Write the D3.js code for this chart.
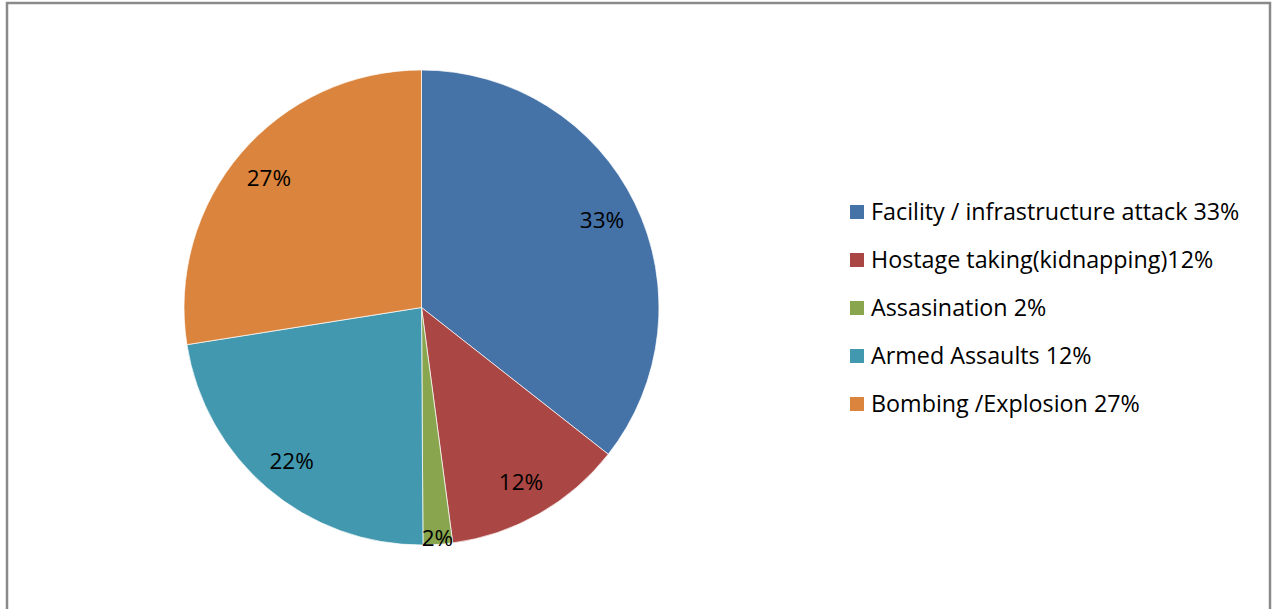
<!DOCTYPE html>
<html>
<head>
<meta charset="utf-8">
<script src="https://cdn.jsdelivr.net/npm/d3@7"></script>
<style>
  html, body { margin: 0; padding: 0; background: #fff; }
  svg { display: block; }
  text { font-family: "Open Sans", Lato, sans-serif; fill: #000; }
</style>
</head>
<body>
<svg id="chart" width="1278" height="609"></svg>
<script>
// Data (slice sizes; label texts as printed)
const categories = ["Facility / infrastructure attack", "Hostage taking(kidnapping)", "Assasination", "Armed Assaults", "Bombing /Explosion"];
const values = [35.6, 12.3, 2.0, 22.6, 27.5];
const sliceLabels = ["33%", "12%", "2%", "22%", "27%"];
const legendSuffix = [" 33%", "12%", " 2%", " 12%", " 27%"];
const colors = ["#4572A7", "#AA4643", "#89A54E", "#4198AF", "#DB843D"];

const svg = d3.select("#chart");

// frame
svg.append("rect").attr("x", 7).attr("y", 3).attr("width", 1263).attr("height", 620)
  .attr("fill", "#fff").attr("stroke", "#8a8a8a").attr("stroke-width", 2.5);

const cx = 421.5, cy = 307.5, R = 237.5;
const g = svg.append("g").attr("transform", `translate(${cx},${cy})`);

const pie = d3.pie().sort(null).value(d => d.v);
const data = categories.map((c, i) => ({c, v: values[i], i}));
const arcs = pie(data);
const arc = d3.arc().innerRadius(0).outerRadius(R);

g.selectAll("path.slice").data(arcs).enter().append("path")
  .attr("class", "slice")
  .attr("d", arc)
  .attr("fill", d => colors[d.data.i])
  .attr("stroke", "#fff").attr("stroke-width", 0.7);

const total = d3.sum(values);
g.selectAll("text.lbl").data(arcs).enter().append("text")
  .attr("class", "lbl")
  .attr("transform", d => {
    const frac = d.data.v / total < 0.05 ? 0.97 : 0.845;
    const a = (d.startAngle + d.endAngle) / 2;
    return `translate(${Math.sin(a) * R * frac},${-Math.cos(a) * R * frac})`;
  })
  .attr("text-anchor", "middle")
  .attr("dy", "0.38em")
  .style("font-size", "22.5px")
  .text(d => sliceLabels[d.data.i]);

// legend
const lg = svg.append("g").attr("transform", "translate(850,212)");
const rows = lg.selectAll("g").data(categories).enter().append("g")
  .attr("transform", (d, i) => `translate(0,${i * 48})`);
rows.append("rect").attr("x", 0).attr("y", -7).attr("width", 14).attr("height", 14)
  .attr("fill", (d, i) => colors[i]);
rows.append("text").attr("x", 21).attr("dy", "0.36em")
  .style("font-size", "23.3px")
  .text((d, i) => d + legendSuffix[i]);
</script>
</body>
</html>
